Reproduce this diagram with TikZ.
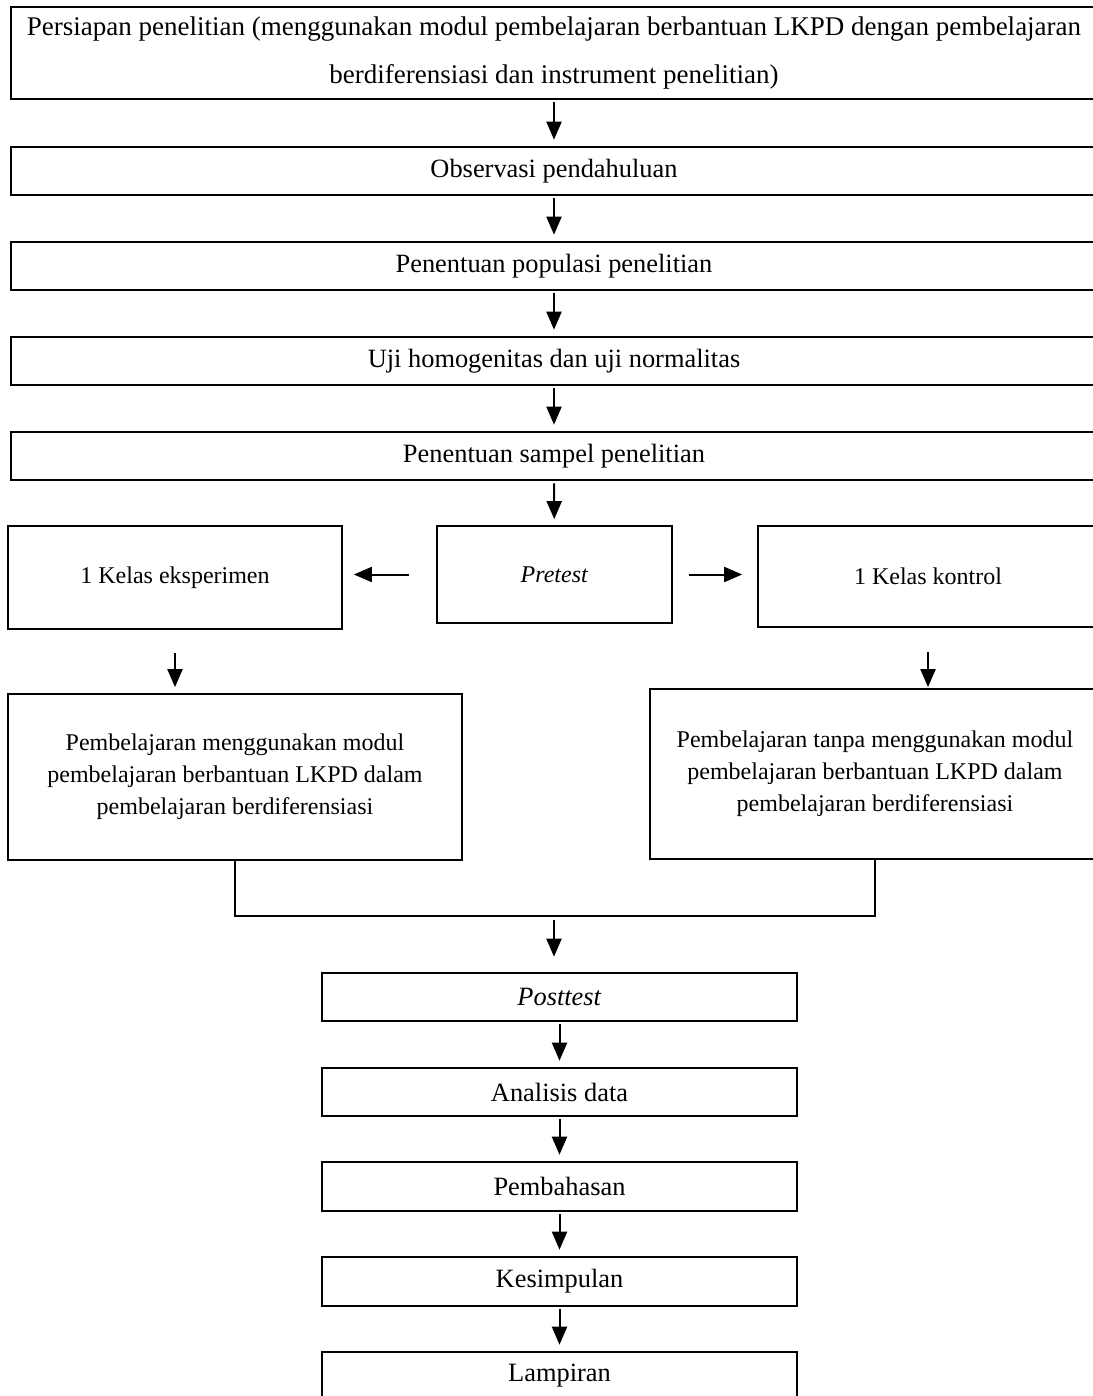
\documentclass[tikz,border=0pt]{standalone}
\usepackage{fontspec}
\setmainfont{Liberation Serif}
\usetikzlibrary{arrows.meta}

\begin{document}
\begin{tikzpicture}[x=0.5pt,y=-0.5pt,
  box/.style={draw,line width=1.3pt,inner sep=0pt,align=center,font=\fontsize{13.2}{16}\selectfont},
  midbox/.style={box,line width=0.85pt,font=\fontsize{12}{16}\selectfont},
  arr/.style={-{Triangle[width=7.5pt,length=9pt]},line width=1pt,shorten <=1pt,shorten >=3pt}]
\useasboundingbox (0,0) rectangle (1092,1396);
\node[box,minimum width=543pt,minimum height=46pt,font=\fontsize{13.5}{24}\selectfont] (prep) at (554,53)
  {Persiapan penelitian (menggunakan modul pembelajaran berbantuan LKPD dengan pembelajaran\\berdiferensiasi dan instrument penelitian)};
\node[box,minimum width=543pt,minimum height=24pt] (obs) at (554,171) {Observasi pendahuluan};
\node[box,minimum width=543pt,minimum height=24pt] (pop) at (554,266) {Penentuan populasi penelitian};
\node[box,minimum width=543pt,minimum height=24pt] (uji) at (554,361) {Uji homogenitas dan uji normalitas};
\node[box,minimum width=543pt,minimum height=24pt] (sam) at (554,456) {Penentuan sampel penelitian};
\node[midbox,minimum width=167pt,minimum height=51.5pt] (eks) at (175,577.5) {1 Kelas eksperimen};
\node[midbox,minimum width=117.5pt,minimum height=48.5pt] (pre) at (554.5,574.5) {\textit{Pretest}};
\node[midbox,minimum width=170pt,minimum height=50.5pt] (kon) at (928,576.5) {1 Kelas kontrol};
\node[midbox,minimum width=227pt,minimum height=83pt] (mod) at (235,777)
  {Pembelajaran menggunakan modul\\pembelajaran berbantuan LKPD dalam\\pembelajaran berdiferensiasi};
\node[midbox,minimum width=225pt,minimum height=85pt] (tanpa) at (875,774)
  {Pembelajaran tanpa menggunakan modul\\pembelajaran berbantuan LKPD dalam\\pembelajaran berdiferensiasi};
\coordinate (mg) at (554,916);
\node[box,minimum width=237.5pt,minimum height=24pt] (post) at (559.5,997) {\textit{Posttest}};
\node[box,minimum width=237.5pt,minimum height=24pt] (ana) at (559.5,1092) {Analisis data};
\node[box,minimum width=237.5pt,minimum height=24.5pt] (bah) at (559.5,1186.5) {Pembahasan};
\node[box,minimum width=237.5pt,minimum height=24.5pt] (kes) at (559.5,1281.5) {Kesimpulan};
\node[box,minimum width=237.5pt,minimum height=24pt] (lam) at (559.5,1376) {Lampiran};
\foreach \a/\b in {prep/obs,obs/pop,pop/uji,uji/sam,sam/pre,post/ana,ana/bah,bah/kes,kes/lam}
  \draw[arr] (\a) -- (\b);
\draw[arr,shorten <=13.5pt,shorten >=5.5pt] (pre.west) -- (pre.west -| eks.east);
\draw[arr,shorten <=8pt,shorten >=7.5pt] (pre.east) -- (pre.east -| kon.west);
\draw[arr,shorten <=11.5pt] (eks.south) -- (eks.south |- mod.north);
\draw[arr,shorten <=12pt,shorten >=0.5pt] (kon.south) -- (kon.south |- tanpa.north);
\draw[line width=1pt] (mod.south) |- (mg) -| (tanpa.south);
\draw[arr,shorten <=2pt,shorten >=7.5pt] (mg) -- (mg |- post.north);
\end{tikzpicture}
\end{document}
